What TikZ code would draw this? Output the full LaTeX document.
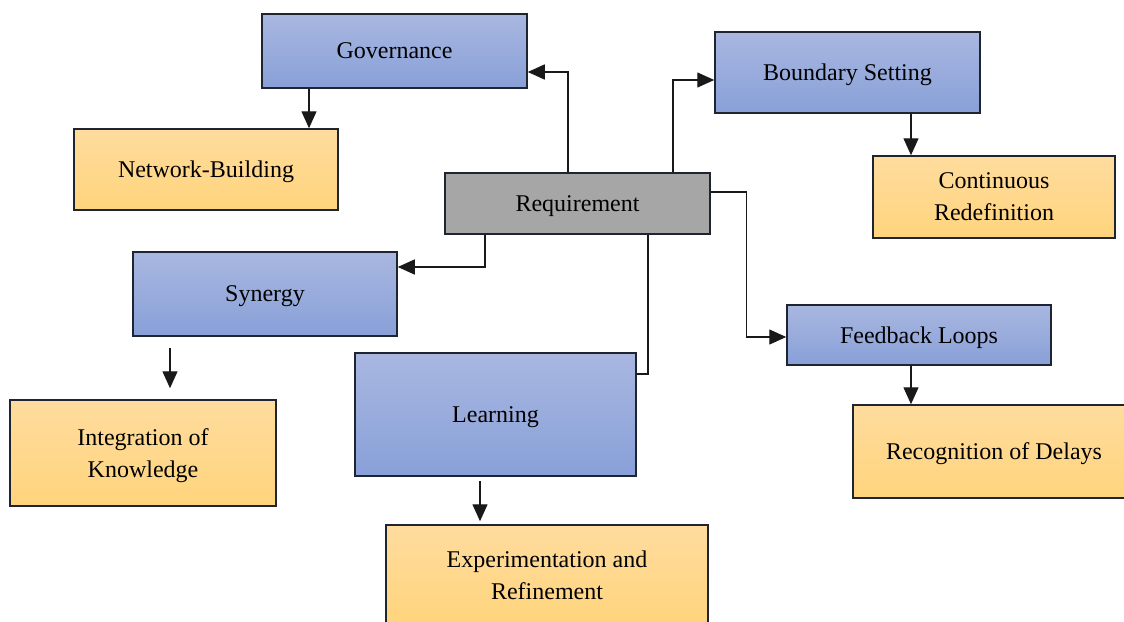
\documentclass[tikz,border=0pt]{standalone}
\usepackage{fontspec}
\setmainfont{Liberation Serif}
\usetikzlibrary{arrows.meta,calc}
\definecolor{blueT}{HTML}{A9B7E0}
\definecolor{blueB}{HTML}{88A0D8}
\definecolor{orT}{HTML}{FFDC9E}
\definecolor{orB}{HTML}{FFD47C}
\definecolor{grayF}{HTML}{A6A6A6}
\definecolor{edge}{HTML}{1E2430}
\tikzset{
  box/.style={draw=edge, line width=0.75pt, inner sep=0pt, align=center,
    text depth=0pt, font=\fontsize{12}{16}\selectfont},
  bluebox/.style={box, top color=blueT, bottom color=blueB},
  orbox/.style={box, top color=orT, bottom color=orB},
  graybox/.style={box, fill=grayF},
  conn/.style={draw=black!90, line width=0.7pt},
  arr/.style={conn, -{Triangle[width=7.5pt,length=8.5pt]}}
}
\begin{document}
\begin{tikzpicture}[x=0.5pt,y=-0.5pt]
\useasboundingbox (0,0) rectangle (1124,621);
\clip (0,0) rectangle (1124,621);
\node[bluebox, minimum width=132.5pt, minimum height=37pt] (gov) at (394.5,51) {Governance};
\node[orbox, minimum width=132pt, minimum height=40.5pt] (net) at (206,169.5) {Network-Building};
\node[graybox, minimum width=132.5pt, minimum height=30.5pt] (req) at (577.5,203.5) {Requirement};
\node[bluebox, minimum width=132.5pt, minimum height=40.5pt] (bnd) at (847.5,72.5) {Boundary Setting};
\node[orbox, minimum width=121pt, minimum height=41pt] (cont) at (994,197) {Continuous\\Redefinition};
\node[bluebox, minimum width=132pt, minimum height=42pt] (syn) at (265,294) {Synergy};
\node[orbox, minimum width=133pt, minimum height=53pt] (int) at (143,453) {Integration of\\Knowledge};
\node[bluebox, minimum width=140.5pt, minimum height=61.5pt] (lrn) at (495.5,414.5) {Learning};
\node[orbox, minimum width=161pt, minimum height=50pt] (exp) at (547,575) {Experimentation and\\Refinement};
\node[bluebox, minimum width=132pt, minimum height=30pt] (fb) at (919,335) {Feedback Loops};
\node[orbox, minimum width=141pt, minimum height=46.5pt] (rec) at (994,451.5) {Recognition of Delays};

% from Requirement
\draw[arr] ([xshift=-4.75pt]req.north) |- ([yshift=-10.5pt]gov.east);
\draw[arr] ([xshift=47.75pt]req.north) |- ([yshift=-3.75pt]bnd.west);
\draw[arr] ([yshift=5.75pt]req.east) -| ($(req.east)!0.47!(fb.west)$) |- ([yshift=-1pt]fb.west);
\draw[arr] ([xshift=-46.25pt]req.south) |- ([yshift=13.5pt]syn.east);
\draw[conn] ([xshift=35.25pt]req.south) |- ([yshift=20.25pt]lrn.east);

% vertical arrows
\draw[arr] ([xshift=-42.75pt]gov.south) -- ([xshift=-42.75pt]gov.south |- net.north);
\draw[arr] ([xshift=31.75pt]bnd.south) -- ([xshift=31.75pt]bnd.south |- cont.north);
\coordinate (synarr) at ([xshift=-47.5pt,yshift=-5.5pt]syn.south);
\draw[arr] (synarr) -- ([yshift=5.5pt]synarr |- int.north);
\coordinate (lrnarr) at ([xshift=-7.75pt,yshift=-2pt]lrn.south);
\draw[arr] (lrnarr) -- ([yshift=1.5pt]lrnarr |- exp.north);
\draw[arr] ([xshift=-4pt]fb.south) -- ([xshift=-4pt]fb.south |- rec.north);
\end{tikzpicture}
\end{document}
